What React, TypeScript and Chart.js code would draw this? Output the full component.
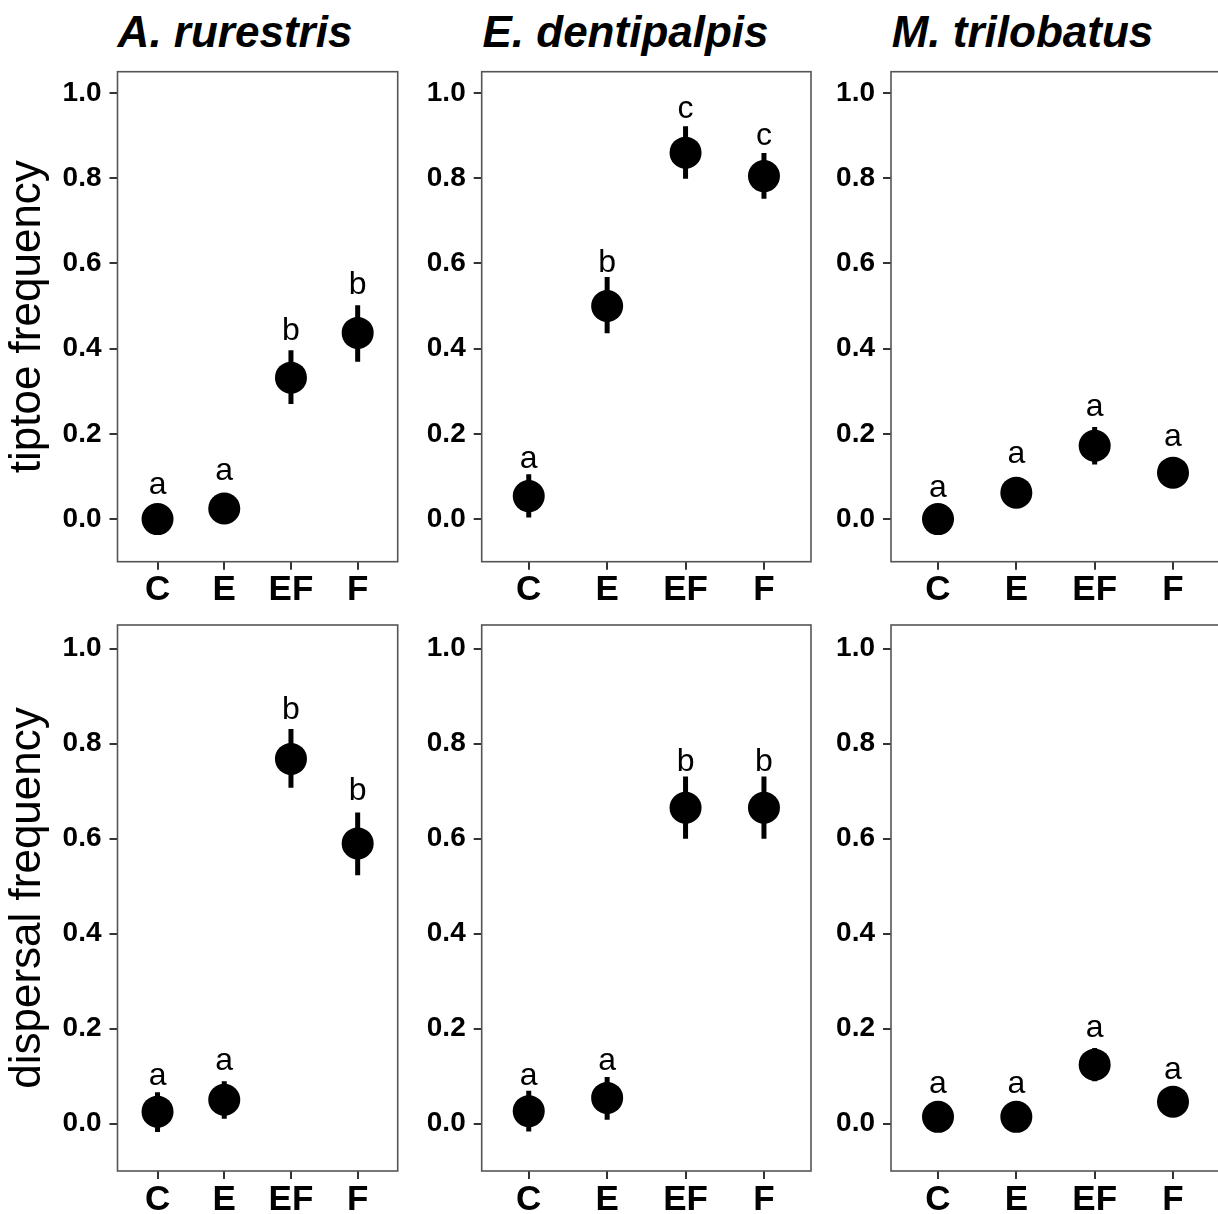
import React, { useEffect, useRef } from "react";
import { Chart, registerables } from "chart.js";

Chart.register(...registerables);

// ---------- data ----------
const categories = ["C", "E", "EF", "F"];
const yTickValues = [0, 0.2, 0.4, 0.6, 0.8, 1.0];
const speciesNames = ["A. rurestris", "E. dentipalpis", "M. trilobatus"];
const rowTitles = ["tiptoe frequency", "dispersal frequency"];

// tiptoe frequency
const rurestrisTiptoeMean = [0.0, 0.025, 0.332, 0.437];
const rurestrisTiptoeLow = [0.0, 0.025, 0.27, 0.369];
const rurestrisTiptoeHigh = [0.0, 0.025, 0.396, 0.502];
const rurestrisTiptoeLetters = ["a", "a", "b", "b"];
const rurestrisTiptoeLetterY = [0.06, 0.091, 0.42, 0.529];

const dentipalpisTiptoeMean = [0.054, 0.5, 0.86, 0.805];
const dentipalpisTiptoeLow = [0.004, 0.436, 0.799, 0.752];
const dentipalpisTiptoeHigh = [0.105, 0.568, 0.922, 0.859];
const dentipalpisTiptoeLetters = ["a", "b", "c", "c"];
const dentipalpisTiptoeLetterY = [0.12, 0.58, 0.942, 0.879];

const trilobatusTiptoeMean = [0.0, 0.062, 0.172, 0.109];
const trilobatusTiptoeLow = [0.0, 0.062, 0.128, 0.109];
const trilobatusTiptoeHigh = [0.0, 0.062, 0.216, 0.109];
const trilobatusTiptoeLetters = ["a", "a", "a", "a"];
const trilobatusTiptoeLetterY = [0.051, 0.131, 0.241, 0.171];

// dispersal frequency
const rurestrisDispersalMean = [0.025, 0.05, 0.768, 0.59];
const rurestrisDispersalLow = [-0.018, 0.01, 0.707, 0.523];
const rurestrisDispersalHigh = [0.066, 0.089, 0.831, 0.655];
const rurestrisDispersalLetters = ["a", "a", "b", "b"];
const rurestrisDispersalLetterY = [0.082, 0.113, 0.852, 0.681];

const dentipalpisDispersalMean = [0.026, 0.054, 0.665, 0.665];
const dentipalpisDispersalLow = [-0.017, 0.008, 0.6, 0.6];
const dentipalpisDispersalHigh = [0.069, 0.098, 0.731, 0.731];
const dentipalpisDispersalLetters = ["a", "a", "b", "b"];
const dentipalpisDispersalLetterY = [0.082, 0.113, 0.742, 0.742];

const trilobatusDispersalMean = [0.014, 0.014, 0.124, 0.046];
const trilobatusDispersalLow = [0.014, 0.014, 0.089, 0.046];
const trilobatusDispersalHigh = [0.014, 0.014, 0.159, 0.046];
const trilobatusDispersalLetters = ["a", "a", "a", "a"];
const trilobatusDispersalLetterY = [0.064, 0.064, 0.183, 0.094];

// ---------- layout ----------
const FONT = '"Liberation Sans", Arial, Helvetica, sans-serif';

const rowLayout = [
  { canvasTop: 40, canvasBottom: 615, chartTop: 71.7, chartBottom: 561.7 },
  { canvasTop: 595, canvasBottom: 1214, chartTop: 625, chartBottom: 1171 },
];
const colLayout = [
  { canvasLeft: 0, canvasRight: 422, chartLeft: 117.5, chartRight: 397.7, titleX: 235 },
  { canvasLeft: 405, canvasRight: 835, chartLeft: 481.7, chartRight: 811, titleX: 625.5 },
  { canvasLeft: 830, canvasRight: 1250, chartLeft: 891, chartRight: 1220, titleX: 1022.5 },
];

type PanelData = {
  mean: number[];
  low: number[];
  high: number[];
  letters: string[];
  letterY: number[];
};

const panelRows: PanelData[][] = [
  [
    { mean: rurestrisTiptoeMean, low: rurestrisTiptoeLow, high: rurestrisTiptoeHigh, letters: rurestrisTiptoeLetters, letterY: rurestrisTiptoeLetterY },
    { mean: dentipalpisTiptoeMean, low: dentipalpisTiptoeLow, high: dentipalpisTiptoeHigh, letters: dentipalpisTiptoeLetters, letterY: dentipalpisTiptoeLetterY },
    { mean: trilobatusTiptoeMean, low: trilobatusTiptoeLow, high: trilobatusTiptoeHigh, letters: trilobatusTiptoeLetters, letterY: trilobatusTiptoeLetterY },
  ],
  [
    { mean: rurestrisDispersalMean, low: rurestrisDispersalLow, high: rurestrisDispersalHigh, letters: rurestrisDispersalLetters, letterY: rurestrisDispersalLetterY },
    { mean: dentipalpisDispersalMean, low: dentipalpisDispersalLow, high: dentipalpisDispersalHigh, letters: dentipalpisDispersalLetters, letterY: dentipalpisDispersalLetterY },
    { mean: trilobatusDispersalMean, low: trilobatusDispersalLow, high: trilobatusDispersalHigh, letters: trilobatusDispersalLetters, letterY: trilobatusDispersalLetterY },
  ],
];

function Panel({ row, col }: { row: number; col: number }) {
  const ref = useRef<HTMLCanvasElement | null>(null);
  const r = rowLayout[row];
  const c = colLayout[col];
  const width = c.canvasRight - c.canvasLeft;
  const height = r.canvasBottom - r.canvasTop;

  useEffect(() => {
    const canvas = ref.current;
    if (!canvas) return;
    const d = panelRows[row][col];

    const framePlugin = {
      id: "frame" + row + col,
      afterDraw(chart: any) {
        const { ctx, chartArea } = chart;
        ctx.save();
        ctx.strokeStyle = "#555555";
        ctx.lineWidth = 1.6;
        ctx.strokeRect(chartArea.left, chartArea.top, chartArea.right - chartArea.left, chartArea.bottom - chartArea.top);
        ctx.restore();
      },
    };
    const letterPlugin = {
      id: "letters" + row + col,
      afterDatasetsDraw(chart: any) {
        const { ctx } = chart;
        const xs = chart.scales.x;
        const ys = chart.scales.y;
        ctx.save();
        ctx.fillStyle = "#000";
        ctx.font = `32px ${FONT}`;
        ctx.textAlign = "center";
        ctx.textBaseline = "alphabetic";
        d.letters.forEach((l, i) => {
          ctx.fillText(l, xs.getPixelForValue(i), ys.getPixelForValue(d.letterY[i]));
        });
        ctx.restore();
      },
    };

    const errorSets = d.mean
      .map((_, i) => i)
      .filter((i) => d.high[i] > d.low[i])
      .map((i) => ({
        type: "scatter" as const,
        data: [
          { x: i, y: d.low[i] },
          { x: i, y: d.high[i] },
        ],
        showLine: true,
        borderColor: "#000",
        borderWidth: 5,
        borderCapStyle: "butt" as const,
        pointRadius: 0,
        order: 1,
      }));

    const chart = new Chart(canvas, {
      type: "scatter",
      data: {
        datasets: [
          {
            data: d.mean.map((m, i) => ({ x: i, y: m })),
            pointRadius: 16,
            pointBackgroundColor: "#000",
            pointBorderWidth: 0,
            backgroundColor: "#000",
            borderColor: "#000",
            showLine: false,
            order: 0,
          },
          ...errorSets,
        ] as any,
      },
      options: {
        animation: false,
        responsive: false,
        devicePixelRatio: 1,
        events: [],
        layout: {
          padding: {
            top: r.chartTop - r.canvasTop,
            right: c.canvasRight - c.chartRight,
            left: 0,
            bottom: 0,
          },
        },
        plugins: {
          legend: { display: false },
          tooltip: { enabled: false },
          title: { display: false },
        },
        scales: {
          x: {
            type: "linear",
            min: -0.6,
            max: 3.6,
            afterBuildTicks: (s: any) => {
              s.ticks = categories.map((_, i) => ({ value: i }));
            },
            afterFit: (s: any) => {
              s.height = r.canvasBottom - r.chartBottom;
              s.paddingLeft = 0;
              s.paddingRight = 0;
            },
            ticks: {
              autoSkip: false,
              maxRotation: 0,
              minRotation: 0,
              padding: 0,
              color: "#000",
              font: { family: FONT, size: 35, weight: "bold" },
              callback: (_v: any, idx: number) => categories[idx],
            },
            grid: { drawOnChartArea: false, drawTicks: true, tickLength: 8, color: "#333", lineWidth: 2 },
            border: { display: false },
          },
          y: {
            type: "linear",
            min: -0.1,
            max: 1.05,
            afterBuildTicks: (s: any) => {
              s.ticks = yTickValues.map((v) => ({ value: v }));
            },
            afterFit: (s: any) => {
              s.width = c.chartLeft - c.canvasLeft;
              s.paddingTop = 0;
              s.paddingBottom = 0;
            },
            ticks: {
              autoSkip: false,
              padding: 8,
              color: "#000",
              font: { family: FONT, size: 28, weight: "bold" },
              callback: (v: any) => Number(v).toFixed(1),
            },
            grid: { drawOnChartArea: false, drawTicks: true, tickLength: 8, color: "#333", lineWidth: 2 },
            border: { display: false },
            title: {
              display: col === 0,
              text: rowTitles[row],
              color: "#000",
              font: { family: FONT, size: 44, weight: "normal" },
              padding: { top: 1.2, bottom: 0 },
            },
          },
        },
      } as any,
      plugins: [framePlugin, letterPlugin],
    });
    return () => chart.destroy();
  }, [row, col]);

  return (
    <canvas
      ref={ref}
      width={width}
      height={height}
      style={{ position: "absolute", left: c.canvasLeft, top: r.canvasTop, width, height }}
    />
  );
}

export default function App() {
  return (
    <div
      style={{
        position: "absolute",
        left: 0,
        top: 0,
        width: 1218,
        height: 1214,
        overflow: "hidden",
        background: "#fff",
      }}
    >
      {speciesNames.map((name, i) => (
        <div
          key={name}
          style={{
            position: "absolute",
            left: colLayout[i].titleX,
            top: 9.5,
            transform: "translateX(-50%)",
            whiteSpace: "nowrap",
            fontFamily: FONT,
            fontSize: 44,
            lineHeight: "44px",
            fontWeight: "bold",
            fontStyle: "italic",
            color: "#000",
          }}
        >
          {name}
        </div>
      ))}
      {[0, 1].map((row) => [0, 1, 2].map((col) => <Panel key={`${row}-${col}`} row={row} col={col} />))}
    </div>
  );
}
